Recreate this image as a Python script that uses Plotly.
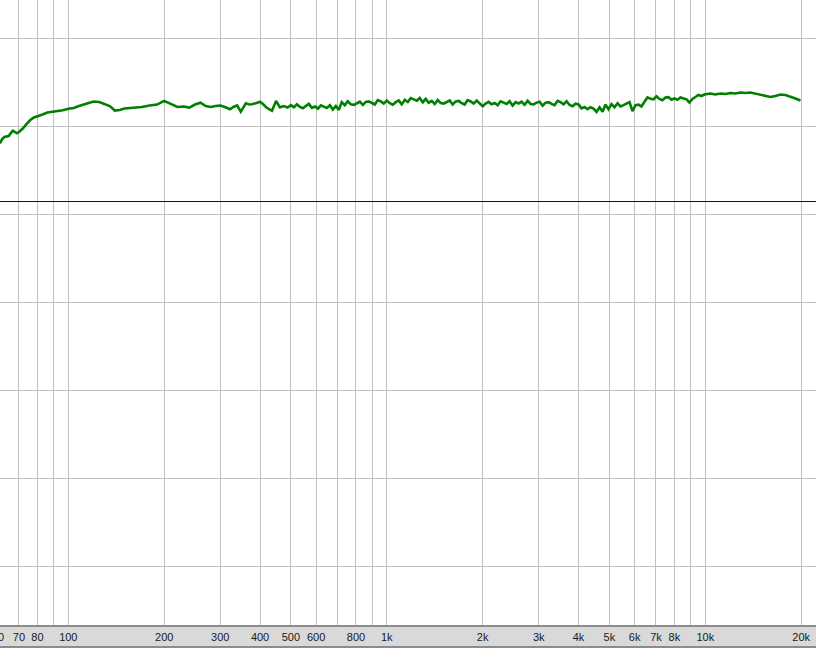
import plotly.graph_objects as go

# ---------------- data ----------------
# smooth low-frequency part (Hz, dB)
freq_low = [61, 62, 63, 64, 65, 66, 67, 68, 69, 70, 72, 74, 76, 78, 80, 83, 86, 90, 93, 96,
            100, 104, 108, 112, 116, 120, 125, 130, 135, 140, 145, 150, 160, 170, 180, 190,
            200, 210, 220, 230, 240, 250, 260, 270, 280, 290, 300, 310, 322, 330, 339, 348,
            361, 370, 377, 390, 400, 410, 418, 428, 436, 449, 462, 475, 488]
db_low = [78.03, 78.52, 78.75, 78.78, 78.86, 79.20, 79.47, 79.32, 79.17, 79.32, 79.72, 80.23,
          80.68, 80.97, 81.08, 81.31, 81.53, 81.63, 81.65, 81.78,
          81.97, 82.05, 82.27, 82.44, 82.64, 82.78, 82.73, 82.50, 82.27, 81.76, 81.82, 81.99,
          82.05, 82.16, 82.33, 82.44,
          82.86, 82.50, 82.16, 82.22, 82.10, 82.44, 82.64, 82.27, 82.16, 82.27, 82.33, 82.16,
          81.90, 82.16, 82.35, 81.63,
          82.58, 82.44, 82.47, 82.61, 82.76, 82.44, 82.12, 81.88, 81.74, 82.84, 82.12, 82.27, 82.10]

# noisy mid band (Hz, dB)
freq_mid = [500, 511, 522, 534, 545, 557, 569, 582, 595, 608, 621, 634, 648, 663, 677, 692,
            707, 722, 738, 754, 771, 788, 805, 823, 841, 859, 878, 897, 917, 937, 957, 978,
            1000, 1022, 1044, 1067, 1090, 1114, 1139, 1164, 1189, 1215, 1242, 1269, 1297, 1325,
            1354, 1384, 1414, 1445, 1477, 1509, 1542, 1576, 1610, 1645, 1682, 1718, 1756, 1794,
            1834, 1874, 1915, 1957, 2000, 2043, 2088, 2134, 2181, 2228, 2277, 2327, 2378, 2430,
            2483, 2538, 2593, 2650, 2708, 2768, 2828, 2890, 2953, 3018, 3084, 3152, 3221, 3291,
            3363, 3437, 3512, 3589, 3668, 3748, 3830, 3914, 4000, 4087, 4177, 4268, 4362, 4457,
            4555, 4655, 4757, 4861, 4967, 5076, 5187, 5301, 5417, 5536, 5657, 5781, 5907, 6037,
            6169, 6304, 6442, 6583, 6727, 6875, 7025, 7179, 7336, 7497, 7661, 7829, 8000, 8176,
            8355, 8538, 8725, 8916, 9111, 9311, 9514, 9723, 9936]
db_mid = [82.37, 82.12, 82.47, 82.17, 82.02, 82.32, 82.52, 82.07, 82.22, 81.97,
          82.36, 82.21, 82.06, 82.36, 81.86, 82.26, 81.84,
          82.71, 82.36, 82.81, 82.46, 82.41, 82.61, 82.76,
          82.39, 82.74, 82.79, 82.59, 82.44, 82.94, 82.79, 82.54, 82.89, 82.59,
          82.41, 82.71, 82.91, 82.46,
          82.98, 82.73, 83.18, 83.03, 82.88, 83.18, 82.68, 83.08,
          82.65, 82.85, 82.50, 82.95, 82.60, 82.55, 82.75, 82.90, 82.45, 82.80, 82.85,
          82.59, 82.44, 82.94, 82.79, 82.54, 82.89, 82.59,
          82.24, 82.54, 82.74,
          82.46, 82.61, 82.36, 82.81, 82.66, 82.51, 82.81, 82.31, 82.71, 82.56, 82.76, 82.41,
          82.86, 82.51, 82.46, 82.66,
          82.76, 82.31, 82.66, 82.71, 82.51, 82.36, 82.86, 82.71, 82.46, 82.81,
          82.39, 82.24, 82.54,
          82.46, 82.01, 82.16, 81.91,
          82.13, 81.98, 81.60, 82.13, 81.63,
          82.43, 81.90, 82.48, 82.13, 82.58, 82.23,
          82.37, 82.57, 82.72,
          81.70, 82.37, 82.42, 82.22,
          82.75, 83.25, 83.10,
          83.03, 83.38, 83.08, 82.93, 83.23, 83.28, 82.98, 83.13, 82.98, 83.25, 83.18, 83.03,
          82.67, 83.07, 83.30, 83.52, 83.41, 83.58]

# high-frequency part (Hz, dB)
freq_high = [10370, 10750, 11150, 11560, 11990, 12430, 12890, 13360, 13850, 14360, 14890,
             15440, 16010, 16600, 17210, 17850, 18500, 19190, 19900]
db_high = [83.69, 83.58, 83.69, 83.64, 83.75, 83.69, 83.81, 83.75, 83.81, 83.69, 83.58,
           83.47, 83.30, 83.41, 83.58, 83.52, 83.35, 83.13, 82.90]

reference_level = 71.42  # dark blue horizontal line (dB)

tick_vals = [70, 80, 90, 100, 200, 300, 400, 500, 600, 700, 800, 900,
             1000, 2000, 3000, 4000, 5000, 6000, 7000, 8000, 9000, 10000, 20000]
tick_text = ["70", "80", "", "100", "200", "300", "400", "500", "600", "", "800", "",
             "1k", "2k", "3k", "4k", "5k", "6k", "7k", "8k", "", "10k", "20k"]
y_grid = [30, 40, 50, 60, 70, 80, 90]

freq_all = freq_low + freq_mid + freq_high
db_all = db_low + db_mid + db_high

# ---------------- figure ----------------
fig = go.Figure()
fig.add_trace(go.Scatter(x=freq_all, y=db_all, mode="lines",
                         line=dict(color="#008000", width=2.6),
                         hoverinfo="skip", showlegend=False))

label_font = dict(family="Liberation Sans, Arial, sans-serif", size=11, color="#1a1a1a")
x_lo, x_hi = 1.78556, 4.34757
fig.update_layout(
    width=816, height=662,
    margin=dict(l=0, r=0, t=0, b=37, pad=0, autoexpand=False),
    paper_bgcolor="white", plot_bgcolor="white",
    showlegend=False,
    xaxis=dict(type="log", range=[x_lo, x_hi], tickmode="array",
               tickvals=tick_vals, ticktext=tick_text, automargin=False,
               showgrid=True, gridcolor="#c0c0c0", gridwidth=1,
               ticks="", showline=False, zeroline=False,
               tickfont=label_font, ticklabelstandoff=4),
    yaxis=dict(range=[23.30, 94.318], tickmode="array", tickvals=y_grid, automargin=False,
               showticklabels=False, showgrid=True, gridcolor="#c0c0c0", gridwidth=1,
               ticks="", showline=False, zeroline=False),
)

# grey axis bar under the plot
bar_h = 22 / 625
fig.add_shape(type="rect", xref="paper", yref="paper", x0=0, x1=1, y0=-bar_h, y1=0,
              fillcolor="#d9d9d9", line=dict(width=0), layer="below")
fig.add_shape(type="line", xref="paper", yref="paper", x0=0, x1=1, y0=-0.0016, y1=-0.0016,
              line=dict(color="#8c8c8c", width=2), layer="below")
fig.add_shape(type="line", xref="paper", yref="paper", x0=0, x1=1, y0=-bar_h, y1=-bar_h,
              line=dict(color="#8c8c8c", width=2), layer="below")

# reference line
fig.add_shape(type="line", xref="paper", yref="y", x0=0, x1=1,
              y0=reference_level, y1=reference_level,
              line=dict(color="#000096", width=1), layer="above")

# partially visible "60" label at the left edge
fig.add_annotation(x=-2.4 / 816, xref="paper", y=-12 / 625, yref="paper",
                   text="60", showarrow=False, xanchor="center", yanchor="middle",
                   font=label_font)

fig.write_html("out.html", config={"displayModeBar": False},
               post_script="document.body.style.margin='0';document.body.style.overflow='hidden';")
